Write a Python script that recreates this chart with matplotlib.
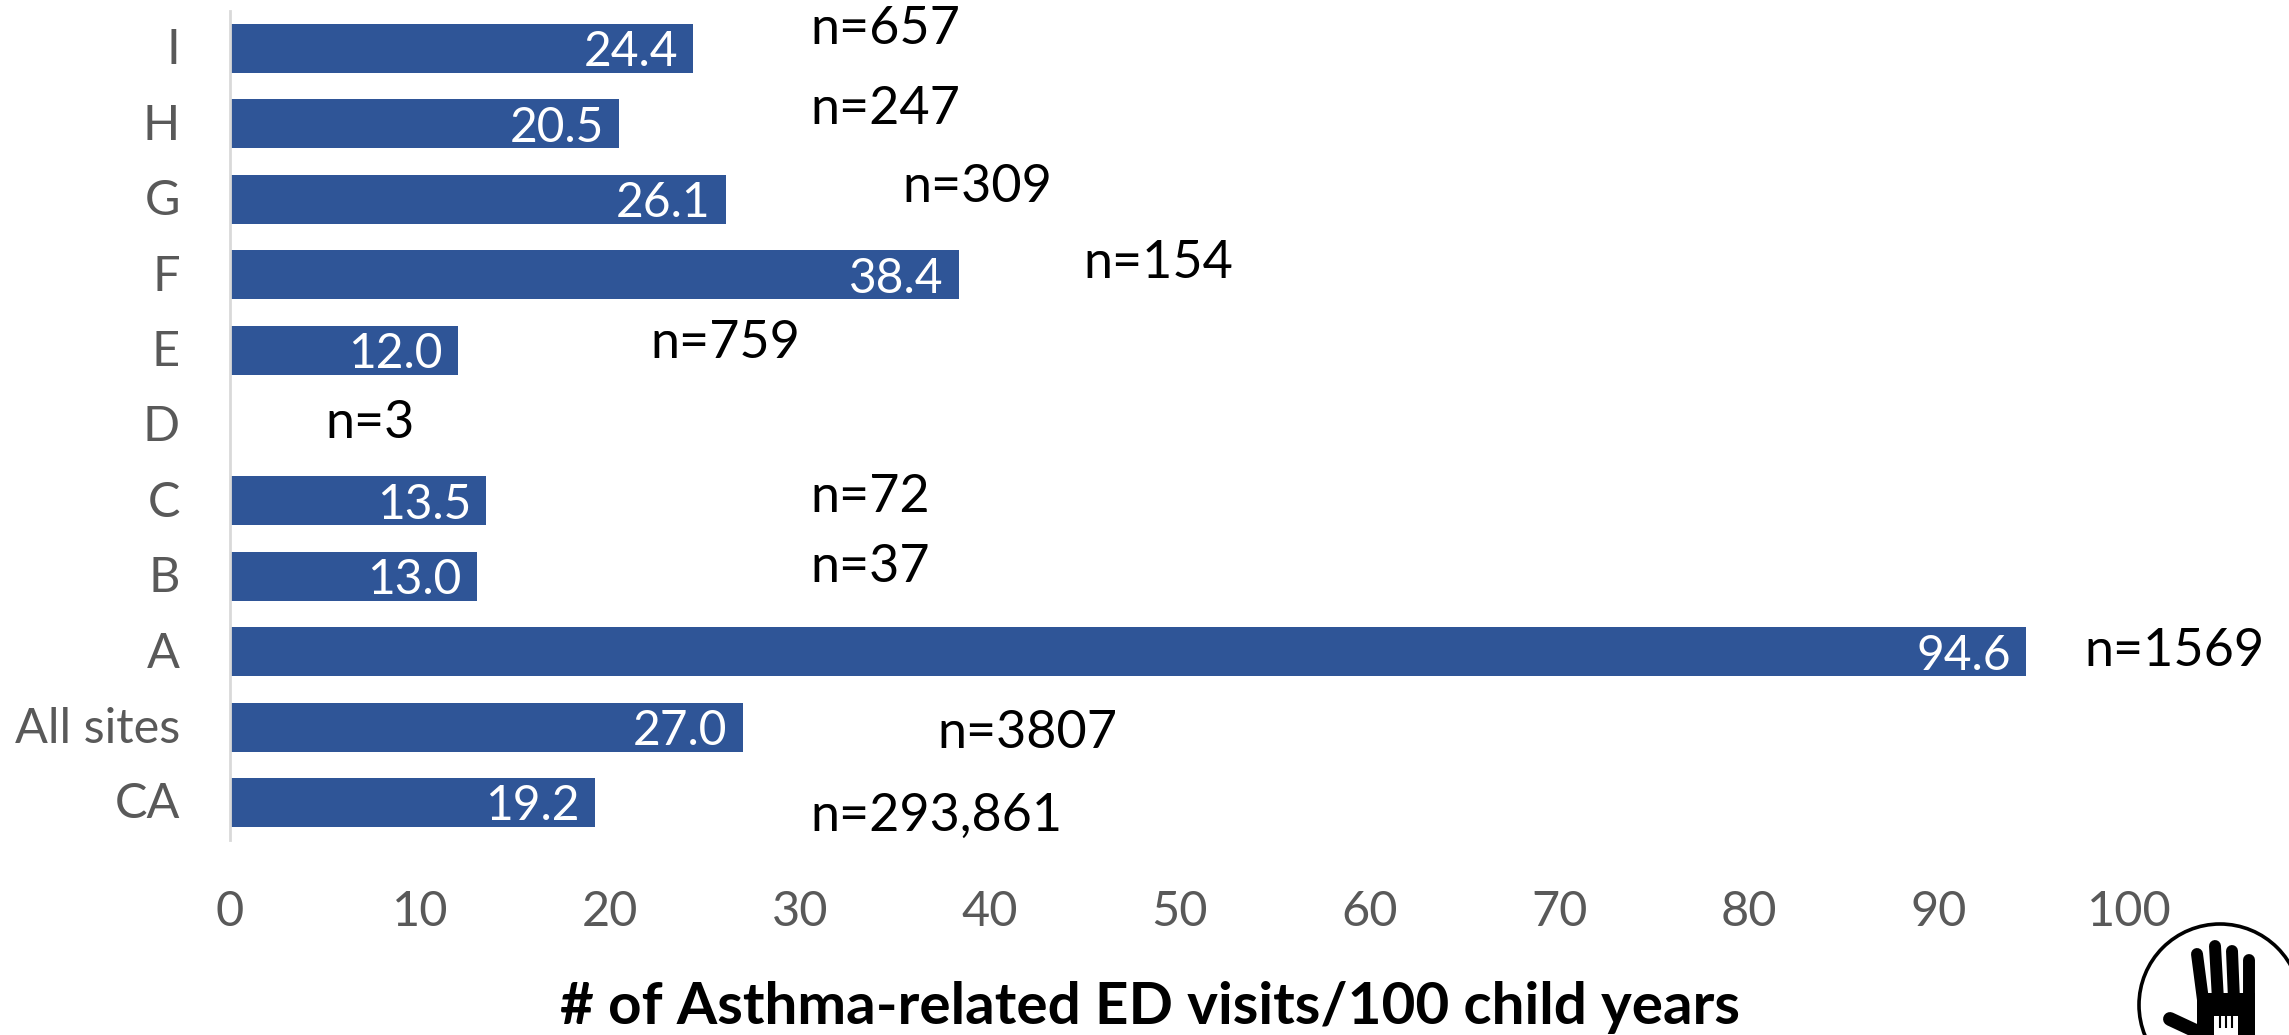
import matplotlib
matplotlib.use("Agg")
import matplotlib.pyplot as plt
from matplotlib.patches import Circle, Polygon
from matplotlib.transforms import ScaledTranslation

plt.rcParams['font.family'] = ['Lato', 'DejaVu Sans']

categories = ["CA", "All sites", "A", "B", "C", "D", "E", "F", "G", "H", "I"]
values = [19.2, 27.0, 94.6, 13.0, 13.5, None, 12.0, 38.4, 26.1, 20.5, 24.4]
n_labels = ["n=293,861", "n=3807", "n=1569", "n=37", "n=72", "n=3", "n=759", "n=154", "n=309", "n=247", "n=657"]
x_ticks = list(range(0, 101, 10))
x_title = "# of Asthma-related ED visits/100 child years"

W, H = 2289, 1035
n_left_px = [810, 937, 2084, 810, 810, 325, 650, 1083, 902, 810, 810]
n_mid_px = [816, 734, 652, 567, 497, 423, 343, 264, 187, 109, 29]

fig = plt.figure(figsize=(W / 100, H / 100), dpi=100, facecolor="white")
ax = fig.add_axes([230 / W, 1 - 840.2 / H, (2129 - 230) / W, (840.2 - 10.8) / H])

bar_color = "#2F5597"
grey = "#595959"
pos = list(range(len(categories)))
ax.barh(pos, [0 if v is None else v for v in values], height=0.65,
        color=bar_color, edgecolor="none")
ax.set_xlim(0, 100)
ax.set_ylim(-0.5, len(categories) - 0.5)
ax.set_yticks(pos, categories)
ax.set_xticks(x_ticks)
ax.tick_params(axis="both", length=0, labelsize=35, labelcolor=grey)
ax.tick_params(axis="y", pad=36)
ax.tick_params(axis="x", pad=36)
for s in ("top", "right", "bottom"):
    ax.spines[s].set_visible(False)
ax.spines["left"].set_color("#D9D9D9")
ax.spines["left"].set_linewidth(2)
for lab in ax.get_yticklabels():
    lab.set_horizontalalignment("right")
    lab.set_transform(lab.get_transform() + ScaledTranslation(0, 1.5 / 72, fig.dpi_scale_trans))

for p, v in zip(pos, values):
    if v is not None:
        ax.annotate(f"{v:.1f}", (v, p), xytext=(-11, 0), textcoords="offset points",
                    ha="right", va="center_baseline", color="white", fontsize=34.5)

for s, x, y in zip(n_labels, n_left_px, n_mid_px):
    fig.text(x / W, 1 - y / H, s, ha="left", va="center", color="black", fontsize=37.5)

fig.text(1150 / W, 1 - 1008 / H, x_title, ha="center", va="center",
         color="black", fontsize=42, fontweight="bold")

# logo, drawn in reference pixel coordinates
logo = fig.add_axes([0, 0, 1, 1], facecolor="none")
logo.set_xlim(0, W)
logo.set_ylim(H, 0)
logo.axis("off")
logo.add_patch(Circle((2220, 1005), 81, fill=False, edgecolor="black", linewidth=2.6))
for x0, y0, x1, y1 in [(2197, 954, 2203, 1000), (2215, 946, 2218, 1000),
                       (2232, 951, 2234, 1000), (2249, 960, 2249, 1000)]:
    logo.plot([x0, x1], [y0, y1], color="black", lw=8.6, solid_capstyle="round")
logo.add_patch(Polygon([(2197, 985), (2208, 993), (2255, 993), (2255, 1035), (2197, 1035)],
                       closed=True, color="black", lw=0))
logo.plot([2170, 2200], [1019, 1033], color="black", lw=10, solid_capstyle="round")
logo.add_patch(Polygon([(2214, 1016), (2238, 1016), (2238, 1035), (2214, 1035)],
                       closed=True, color="white", lw=0))
for x in (2220, 2226, 2232):
    logo.plot([x, x], [1012, 1028], color="black", lw=1.5, solid_capstyle="butt")

fig.savefig("out.png", dpi=100, facecolor="white")
